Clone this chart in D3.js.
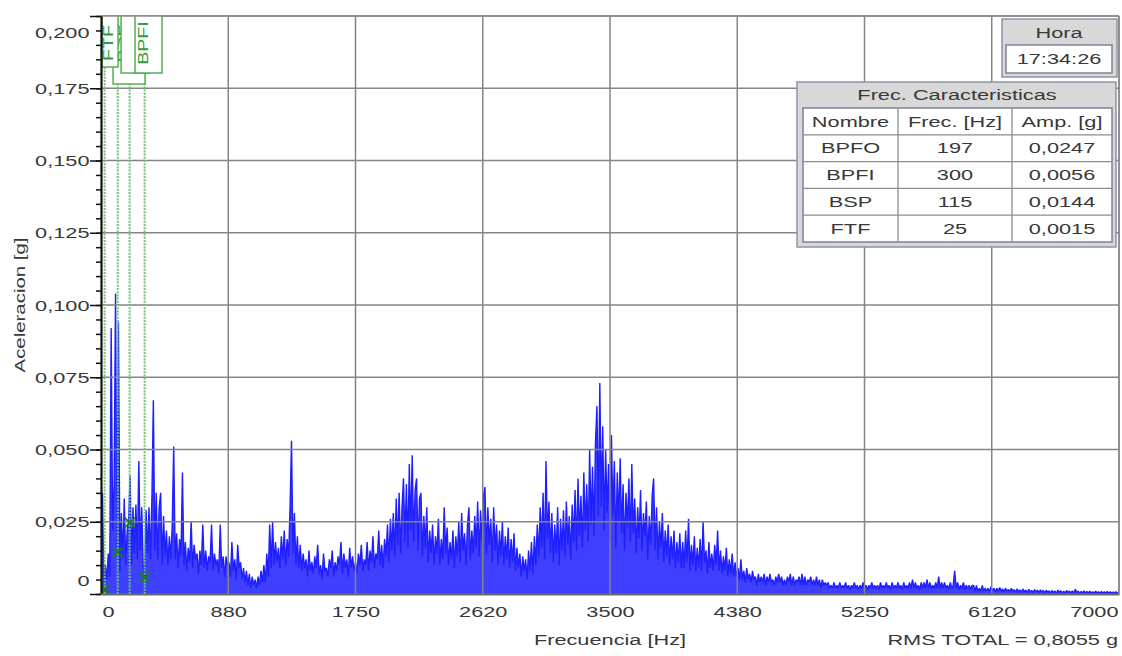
<!DOCTYPE html>
<html>
<head>
<meta charset="utf-8">
<script src="https://cdn.jsdelivr.net/npm/d3@7/dist/d3.min.js"></script>
<style>
body{margin:0;background:#fff;}
svg{display:block;font-family:"Liberation Sans",Arial,sans-serif;}
</style>
</head>
<body>
<div id="chart"></div>
<script>
// spectrum amplitudes in mg, one bin every 10 Hz
const specA = [1,35,3,10,5,14,6,92,22,38, 104,15,94,8,28,12,33,10,22,25, 41,10,30,14,31,12,46,15,30,10,
  6,29,14,30,12,33,67,15,35,12, 30,35,10,27,13,22,10,20,12,24, 51,12,21,9,19,13,42,10,18,8,
  16,11,25,9,17,12,14,7,15,10, 24,9,15,8,13,11,24,8,14,10, 12,7,24,9,13,6,13,10,11,6, 18,8,12,5,17,9,11,5,9,4];
const specB = [8,3,7,2,6,3,5,2,6,3, 8,4,10,4,14,6,24,9,25,10, 18,11,16,9,20,12,22,10,19,13,
  30,53,14,28,10,20,9,17,8,14, 9,12,6,15,8,11,7,13,9,17, 7,10,5,14,8,9,6,12,9,15,
  6,11,8,13,10,18,7,14,9,12, 6,16,9,13,8,11,7,14,10,17, 8,12,10,18,8,15,11,20,9,14, 12,22,10,17,9,19,13,24,11,26];
const specC = [15,28,13,33,17,35,14,30,40,18, 38,16,45,22,48,18,36,40,15,33, 35,13,27,16,30,11,22,14,24,10,
  20,14,26,10,19,12,30,14,23,10, 18,12,22,9,20,13,25,11,28,15, 21,10,24,30,12,22,14,27,16,32,
  13,29,18,34,37,14,30,17,26,11, 30,15,24,10,22,13,25,10,20,12, 23,9,19,11,21,8,16,9,14,6, 13,8,12,5,15,8,18,7,20,10];
const specD = [24,13,30,16,35,12,46,19,32,14, 28,11,24,14,30,10,26,15,29,13, 32,17,27,12,31,18,36,15,40,20,
  34,16,42,22,38,18,50,24,44,20, 52,65,27,73,30,58,22,50,28,45, 19,55,27,46,16,42,25,47,21,38,
  15,35,23,40,18,45,21,33,14,30, 19,36,15,28,20,32,12,27,17,34, 40,15,30,12,25,16,28,11,22,13, 24,10,20,12,22,9,18,11,21,9];
const specE = [18,9,22,11,26,8,17,10,20,8, 16,9,19,8,25,11,15,7,18,9, 14,8,17,10,22,8,15,7,13,8,
  16,6,12,7,14,6,11,6,9,5, 12,5,8,4,9,5,7,4,8,5, 6,3,7,4,6,4,7,3,6,4,
  7,4,5,3,6,4,7,4,6,3, 5,3,6,4,7,3,6,3,5,4, 6,3,7,3,6,3,5,4,6,3, 5,3,6,3,5,2,5,3,4,3];
const specF = [4,2,3,2,4,2,3,2,4,2, 3,2,4,2,3,1.5,3,2,4,2, 3,1.5,3,2,4,2,3,1.5,3,2,
  4,2,3,2,3,1.5,4,2,3,2, 4,2,3,1.5,4,2,3,2,4,2, 3,1.5,4,2,3,2,4,2,5,2,
  4,2,3,1.5,4,2,4,2,5,2, 4,2,3,2,4,2,6,2,4,2, 4,2,3,1.5,4,2,3,8,2,4, 1.5,3,2,4,1.5,3,2,3,1.5,3];
const specG = [3,1,3,1,2,1,3,1,2,1, 2,1,2.5,1,2,0.8,2,1,2.2,1, 1.8,0.7,2,1,1.6,0.8,2,0.9,1.5,0.6,
  1.8,0.8,1.4,0.6,1.7,0.9,1.3,0.5,1.6,0.8, 1.2,0.5,1.5,0.7,1.3,0.5,1.4,0.7,1.2,0.4, 1.3,0.6,1.1,0.4,1.2,0.5,1,0.4,1.3,0.6,
  1.1,0.4,1,0.3,1.2,0.5,1,0.4,1.1,0.3, 1.6,0.5,1,0.3,0.9,0.4,1.1,0.3,0.9,0.4, 1,0.3,0.8,0.3,1,0.4,0.8,0.3,0.9,0.3,
  0.8,0.3,0.9,0.3,0.8,0.3,0.7,0.3,0.8,0.3,0.5];
const freqStep = 10;

const markerNames = ["BPFO", "BPFI", "BSP", "FTF"];
const markerFreqs = [197, 300, 115, 25];
const markerAmps = [0.0247, 0.0056, 0.0144, 0.0015];

const xTicks = [0, 875, 1750, 2625, 3500, 4375, 5250, 6125, 7000];
const xTickLabels = ["0", "880", "1750", "2620", "3500", "4380", "5250", "6120", "7000"];
const yTicks = [0, 0.025, 0.05, 0.075, 0.1, 0.125, 0.15, 0.175, 0.2];
const yTickLabels = ["0", "0,025", "0,050", "0,075", "0,100", "0,125", "0,150", "0,175", "0,200"];

const horaText = "17:34:26";
const rmsTotal = "0,8055";

function drawSpectrum(element){
    const W = 1122, H = 656;
    const left = 101, right = 1119, top = 16, bottom = 594;
    const SX = 1.45; // the text in the picture is stretched sideways
    const txtColor = "#383838";

    const svg = d3.select(element).append("svg")
        .attr("width", W).attr("height", H);

    var x = d3.scaleLinear().domain([0, 7000]).range([left, right]),
        y = d3.scaleLinear().domain([0, 0.2]).range([bottom, top]);

    svg.append("defs").append("clipPath").attr("id", "plotclip")
      .append("rect").attr("x", left).attr("y", top)
      .attr("width", right - left).attr("height", bottom - top);

    function stext(g, str, tx, ty, anchor, size, sx){
        return g.append("text")
            .attr("transform", "translate(" + tx + "," + ty + ") scale(" + (sx || SX) + ",1)")
            .attr("text-anchor", anchor)
            .attr("dominant-baseline", "central")
            .style("font-size", (size || 15) + "px")
            .attr("fill", txtColor)
            .text(str);
    }

    const data = [].concat(specA, specB, specC, specD, specE, specF, specG)
        .map(function(v, i){ return {f: i * freqStep, a: v / 1000}; });

    const plot = svg.append("g").attr("clip-path", "url(#plotclip)");

    // the trace is so dense in the picture that it reads as a filled band
    plot.append("path")
        .datum(data)
        .attr("fill", "#2a2aff")
        .attr("fill-opacity", 0.9)
        .attr("d", d3.area().x(function(d){ return x(d.f); }).y0(y(0)).y1(function(d){ return y(d.a); }));

    plot.append("path")
        .datum(data)
        .attr("fill", "none")
        .attr("stroke", "#1e1eff")
        .attr("stroke-width", 1.4)
        .attr("stroke-linejoin", "bevel")
        .attr("d", d3.line().x(function(d){ return x(d.f); }).y(function(d){ return y(d.a); }));

    // grid
    const grid = svg.append("g").attr("stroke", "#858585").attr("stroke-width", 1.5);
    grid.selectAll(".gx").data(xTicks.slice(1)).enter().append("line")
        .attr("x1", function(d){ return x(d); }).attr("x2", function(d){ return x(d); })
        .attr("y1", top).attr("y2", bottom);
    grid.selectAll(".gy").data(yTicks.slice(1)).enter().append("line")
        .attr("x1", left).attr("x2", right)
        .attr("y1", function(d){ return y(d); }).attr("y2", function(d){ return y(d); });

    // markers
    const boxLayout = {
        BSP:  {dx: -4.7, w: 32, b: 84, t: 11},
        FTF:  {dx: -2.6, w: 16, b: 67, t: 11},
        BPFO: {dx: -8.6, w: 29, b: 73, t: 25},
        BPFI: {dx: -9.6, w: 27, b: 73, t: 13}
    };
    const markers = markerNames.map(function(n, i){ return {name: n, f: markerFreqs[i], a: markerAmps[i]}; });

    const mk = svg.append("g").attr("clip-path", "url(#plotclip)");
    mk.selectAll(".vline").data(markers).enter().append("line")
        .attr("x1", function(d){ return x(d.f); }).attr("x2", function(d){ return x(d.f); })
        .attr("y1", bottom).attr("y2", function(d){ return boxLayout[d.name].b; })
        .attr("stroke", "#6cc46c").attr("stroke-width", 2)
        .attr("stroke-dasharray", "2,1.2");

    ["BSP", "FTF", "BPFO", "BPFI"].forEach(function(n){
        const m = markers.find(function(d){ return d.name === n; });
        const bl = boxLayout[n];
        const bx = x(m.f) + bl.dx;
        mk.append("rect")
            .attr("x", bx).attr("y", top - 4)
            .attr("width", bl.w).attr("height", bl.b - top + 4)
            .attr("fill", "#fff").attr("stroke", "#45ad45").attr("stroke-width", 1.4);
        mk.append("text")
            .attr("transform", "translate(" + (bx + bl.t) + ",43) rotate(-90) scale(1.4,1)")
            .attr("text-anchor", "middle")
            .style("font-size", "14px")
            .attr("fill", "#2f9e3a")
            .text(n);
    });

    const cross = mk.selectAll(".mx").data(markers).enter().append("g")
        .attr("transform", function(d){ return "translate(" + x(d.f) + "," + y(d.a) + ")"; })
        .attr("stroke", "#1d7a2c").attr("stroke-width", 2);
    cross.append("line").attr("x1", -5).attr("y1", -5).attr("x2", 5).attr("y2", 5);
    cross.append("line").attr("x1", -5).attr("y1", 5).attr("x2", 5).attr("y2", -5);

    // frame
    svg.append("line").attr("x1", left).attr("x2", right).attr("y1", top).attr("y2", top)
        .attr("stroke", "#8a8a8a").attr("stroke-width", 1.5);
    svg.append("line").attr("x1", right).attr("x2", right).attr("y1", top).attr("y2", bottom)
        .attr("stroke", "#8a8a8a").attr("stroke-width", 1.5);

    // y axis
    const minor = d3.range(0, 0.2001, 0.005);
    svg.append("g").attr("transform", "translate(" + left + ",0)")
        .call(d3.axisLeft(y).tickValues(minor).tickSize(5).tickSizeOuter(0).tickFormat(""))
        .call(function(g){ g.select(".domain").remove(); })
        .selectAll("line").attr("stroke", "#111").attr("stroke-width", 1.5);

    const yAx = svg.append("g").attr("transform", "translate(" + left + ",0)")
        .call(d3.axisLeft(y).tickValues(yTicks).tickSize(11).tickSizeOuter(0)
            .tickFormat(function(d, i){ return yTickLabels[i]; }));
    yAx.select(".domain").attr("stroke", "#111").attr("stroke-width", 2.2);
    yAx.selectAll(".tick line").attr("stroke", "#111").attr("stroke-width", 1.5);
    yAx.selectAll(".tick text")
        .attr("x", 0).attr("dy", null)
        .attr("dominant-baseline", "central")
        .attr("fill", txtColor)
        .style("font-size", "15px")
        .style("font-family", "'Liberation Sans', Arial, sans-serif")
        .attr("transform", function(d){
            const py = y(d);
            const cy = Math.max(32, Math.min(580, py));
            return "translate(-11.5," + (cy - py) + ") scale(" + SX + ",1)";
        });

    // x axis
    const xAx = svg.append("g").attr("transform", "translate(0," + bottom + ")")
        .call(d3.axisBottom(x).tickValues(xTicks).tickSize(0).tickSizeOuter(0)
            .tickFormat(function(d, i){ return xTickLabels[i]; }));
    xAx.select(".domain").attr("stroke", "#6a6a6a").attr("stroke-width", 2);
    xAx.selectAll(".tick text")
        .attr("y", 0).attr("dy", null)
        .attr("dominant-baseline", "central")
        .attr("fill", txtColor)
        .style("font-size", "15px")
        .style("font-family", "'Liberation Sans', Arial, sans-serif")
        .attr("transform", function(d, i){
            const half = this.getComputedTextLength() * SX / 2;
            const px = x(d);
            const cx = Math.max(left + 1 + half, Math.min(right - 1 - half, px));
            return "translate(" + (cx - px) + ",18) scale(" + SX + ",1)";
        });

    stext(svg, "Frecuencia [Hz]", 610, 640, "middle");
    stext(svg, "RMS TOTAL = " + rmsTotal + " g", 1118, 640, "end");

    svg.append("text")
        .attr("transform", "translate(20,305) rotate(-90) scale(1.36,1)")
        .attr("text-anchor", "middle")
        .attr("dominant-baseline", "central")
        .style("font-size", "15px")
        .attr("fill", txtColor)
        .text("Aceleracion [g]");

    // hora box
    const panelFill = "#d8d8d8", panelStroke = "#8d93a6";
    const hora = svg.append("g");
    hora.append("rect").attr("x", 1002).attr("y", 19).attr("width", 115).attr("height", 58)
        .attr("fill", panelFill).attr("stroke", panelStroke).attr("stroke-width", 1.5);
    stext(hora, "Hora", 1059, 33, "middle");
    hora.append("rect").attr("x", 1006).attr("y", 45).attr("width", 106).attr("height", 28)
        .attr("fill", "#fff").attr("stroke", "#7c8398").attr("stroke-width", 1.5);
    stext(hora, horaText, 1059, 59, "middle");

    // characteristic frequencies table
    const tb = svg.append("g");
    tb.append("rect").attr("x", 797).attr("y", 82).attr("width", 319).attr("height", 165)
        .attr("fill", panelFill).attr("stroke", panelStroke).attr("stroke-width", 1.5);
    stext(tb, "Frec. Caracteristicas", 957, 95, "middle");
    const tx0 = 803, tx1 = 1112, ty0 = 108, ty1 = 242;
    const cols = [tx0, 898, 1012, tx1];
    const rowH = (ty1 - ty0) / (markers.length + 1);
    tb.append("rect").attr("x", tx0).attr("y", ty0).attr("width", tx1 - tx0).attr("height", ty1 - ty0)
        .attr("fill", "#fff").attr("stroke", "#7c8398").attr("stroke-width", 1.5);
    for (let r = 1; r <= markers.length; r++){
        tb.append("line").attr("x1", tx0).attr("x2", tx1)
            .attr("y1", ty0 + r * rowH).attr("y2", ty0 + r * rowH)
            .attr("stroke", "#8c8c8c").attr("stroke-width", 1.3);
    }
    [1, 2].forEach(function(c){
        tb.append("line").attr("x1", cols[c]).attr("x2", cols[c]).attr("y1", ty0).attr("y2", ty1)
            .attr("stroke", "#8c8c8c").attr("stroke-width", 1.3);
    });
    const rows = [["Nombre", "Frec. [Hz]", "Amp. [g]"]].concat(markers.map(function(m){
        return [m.name, String(m.f), d3.format(".4f")(m.a).replace(".", ",")];
    }));
    rows.forEach(function(row, r){
        row.forEach(function(cell, c){
            stext(tb, cell, (cols[c] + cols[c + 1]) / 2, ty0 + rowH * (r + 0.5), "middle");
        });
    });
}

drawSpectrum("#chart");
</script>
</body>
</html>
